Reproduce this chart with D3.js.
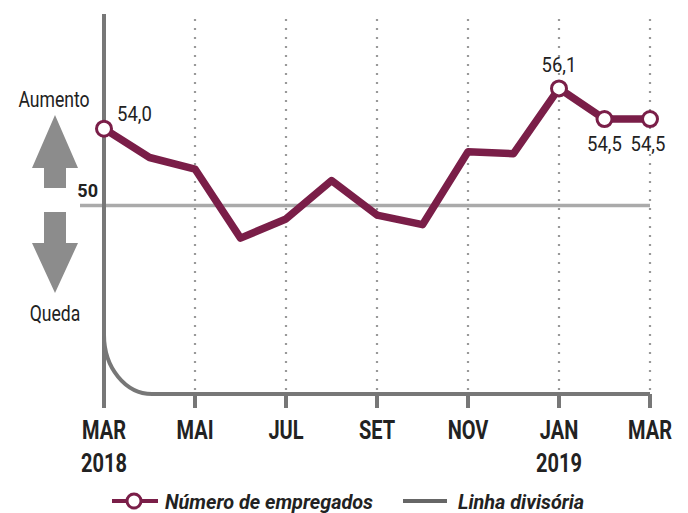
<!DOCTYPE html>
<html>
<head>
<meta charset="utf-8">
<script src="https://cdn.jsdelivr.net/npm/d3@7"></script>
<style>
  body { margin: 0; background: #fff; }
  svg text { font-family: "Roboto", "Liberation Sans", sans-serif; fill: #222; }
</style>
</head>
<body>
<div id="chart"></div>
<script>
// monthly values, MAR 2018 .. MAR 2019
var months = ["MAR","ABR","MAI","JUN","JUL","AGO","SET","OUT","NOV","DEZ","JAN","FEV","MAR2"];
var values = [54.0, 52.5, 51.9, 48.3, 49.3, 51.3, 49.5, 49.0, 52.8, 52.7, 56.1, 54.5, 54.5];
var tickLabels = ["MAR","MAI","JUL","SET","NOV","JAN","MAR"];
var yearLabels = ["2018","","","","","2019",""];
var labelled = [0, 10, 11, 12];
var divisor = 50;

var width = 688, height = 513;
var maroon = "#7a1e48", axisGray = "#777", lineGray = "#aaa";

var svg = d3.select("#chart").append("svg")
    .attr("width", width)
    .attr("height", height);

var x = d3.scalePoint().domain(months).range([104, 650]);
var y = d3.scaleLinear().domain([44, 58]).range([320.7, 51.9]);

var tickIdx = [0, 2, 4, 6, 8, 10, 12];

// text squeezed horizontally, the original font is a narrow one
function label(px, py, txt, size, opts){
    opts = opts || {};
    var g = svg.append("g")
        .attr("transform", "translate(" + px + "," + py + ") scale(" + (opts.sx || 1) + ",1)");
    return g.append("text")
        .attr("text-anchor", opts.anchor || "start")
        .style("font-size", size + "px")
        .style("font-weight", opts.weight || "normal")
        .style("font-style", opts.style || "normal")
        .text(txt);
}

// dotted grid lines
tickIdx.slice(1).forEach(function(i){
    svg.append("line")
        .attr("x1", x(months[i])).attr("x2", x(months[i]))
        .attr("y1", 19).attr("y2", 390)
        .attr("stroke", "#999")
        .attr("stroke-width", 2.2)
        .attr("stroke-dasharray", "2,7");
});

// 50 line
svg.append("line")
    .attr("x1", 80).attr("x2", 650)
    .attr("y1", y(divisor)).attr("y2", y(divisor))
    .attr("stroke", lineGray).attr("stroke-width", 3.5);

// vertical axis
svg.append("line")
    .attr("x1", 104).attr("x2", 104)
    .attr("y1", 14).attr("y2", 408)
    .attr("stroke", axisGray).attr("stroke-width", 4);

// curved bottom axis
svg.append("path")
    .attr("d", "M104,335 A48,59 0 0,0 152,394 L650,394")
    .attr("fill", "none").attr("stroke", axisGray).attr("stroke-width", 4);

tickIdx.slice(1).forEach(function(i){
    svg.append("line")
        .attr("x1", x(months[i])).attr("x2", x(months[i]))
        .attr("y1", 394).attr("y2", 408)
        .attr("stroke", axisGray).attr("stroke-width", 4);
});

// tick labels
tickIdx.forEach(function(i, k){
    label(x(months[i]), 438.5, tickLabels[k], 25, {anchor: "middle", weight: "bold", sx: 0.8});
    if (yearLabels[k]) {
        label(x(months[i]), 471.5, yearLabels[k], 25, {anchor: "middle", weight: "bold", sx: 0.8});
    }
});

// arrows
svg.append("path")
    .attr("d", "M55,115 L78,168 L66,168 L66,188 L44,188 L44,168 L32,168 Z")
    .attr("fill", "#8c8c8c");
svg.append("path")
    .attr("d", "M44,212 L66,212 L66,243 L78,243 L55,293 L32,243 L44,243 Z")
    .attr("fill", "#8c8c8c");

label(54, 106.5, "Aumento", 22, {anchor: "middle", sx: 0.8});
label(55, 321, "Queda", 22, {anchor: "middle", sx: 0.8});
label(98, 197, "50", 19, {anchor: "end", weight: "bold", sx: 0.95});

// data line
var line = d3.line()
    .x(function(d, i){ return x(months[i]); })
    .y(function(d){ return y(d); });

svg.append("path")
    .datum(values)
    .attr("d", line)
    .attr("fill", "none")
    .attr("stroke", maroon)
    .attr("stroke-width", 7.5)
    .attr("stroke-linejoin", "round");

svg.selectAll("circle.pt")
    .data(labelled)
    .enter().append("circle")
    .attr("class", "pt")
    .attr("cx", function(i){ return x(months[i]); })
    .attr("cy", function(i){ return y(values[i]); })
    .attr("r", 7.5)
    .attr("fill", "#fff")
    .attr("stroke", maroon)
    .attr("stroke-width", 3);

// value labels
var fmt = function(v){ return v.toFixed(1).replace(".", ","); };
label(117, 120.5, fmt(values[0]), 21, {sx: 0.88});
label(x(months[10]), 72, fmt(values[10]), 21, {anchor: "middle", sx: 0.88});
label(x(months[11]), 151, fmt(values[11]), 21, {anchor: "middle", sx: 0.88});
label(x(months[12]) - 2, 151, fmt(values[12]), 21, {anchor: "middle", sx: 0.88});

// legend
svg.append("line").attr("x1", 112).attr("x2", 158).attr("y1", 501).attr("y2", 501)
    .attr("stroke", maroon).attr("stroke-width", 4);
svg.append("circle").attr("cx", 134).attr("cy", 501).attr("r", 7)
    .attr("fill", "#fff").attr("stroke", maroon).attr("stroke-width", 3);
label(165, 509, "Número de empregados", 21, {weight: "bold", style: "italic", sx: 0.945});
svg.append("line").attr("x1", 403).attr("x2", 447).attr("y1", 501).attr("y2", 501)
    .attr("stroke", "#666").attr("stroke-width", 4);
label(458, 509, "Linha divisória", 21, {weight: "bold", style: "italic", sx: 0.945});
</script>
</body>
</html>
